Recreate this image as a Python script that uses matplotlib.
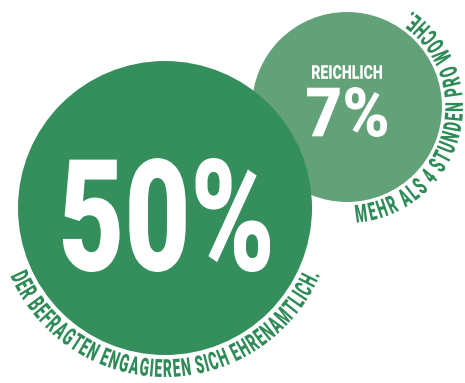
import numpy as np
import matplotlib
matplotlib.use("Agg")
import matplotlib.pyplot as plt
from matplotlib.patches import Circle, PathPatch
from matplotlib.textpath import TextPath
from matplotlib.transforms import Affine2D
from matplotlib.font_manager import FontProperties, findfont, get_font

# Shares shown in the two bubbles
share_engaged = 50
share_hours = 7
label_engaged = "DER BEFRAGTEN ENGAGIEREN SICH EHRENAMTLICH."
label_hours = "MEHR ALS 4 STUNDEN PRO WOCHE."
prefix_hours = "REICHLICH"

W, H = 465, 383
dark_green = "#348F5D"
light_green = "#63A279"
text_green = "#2F8B57"

prop = FontProperties(family="Roboto", weight=900)


def glyph_advances(s, size):
    font = get_font(findfont(prop))
    font.set_size(size, 72)
    return np.array([font.load_char(ord(ch)).linearHoriAdvance / 65536 for ch in s])


def text_in_box(ax, s, x0, y0, x1, y1, color):
    # stretch a glyph run so its ink fills the given box
    tp = TextPath((0, 0), s, size=100, prop=prop)
    ext = tp.get_extents()
    tr = (Affine2D().translate(-ext.x0, -ext.y0)
          .scale((x1 - x0) / ext.width, (y1 - y0) / ext.height)
          .translate(x0, y0))
    ax.add_patch(PathPatch(tr.transform_path(tp), fc=color, lw=0))


def text_on_arc(ax, s, center, r_base, a_start, a_end, size, sx, color):
    # letters sit outside the circle, tops pointing to the centre, reading counter-clockwise
    adv = glyph_advances(s, size) * sx
    mids = np.cumsum(adv) - adv / 2
    angles = a_start + (mids - mids[0]) / (mids[-1] - mids[0]) * (a_end - a_start)
    for ch, a, w in zip(s, angles, adv):
        if ch == " ":
            continue
        tp = TextPath((0, 0), ch, size=size, prop=prop)
        t = np.radians(a)
        px = center[0] + r_base * np.cos(t)
        py = center[1] + r_base * np.sin(t)
        tr = (Affine2D().scale(sx, 1).translate(-w / 2, 0)
              .rotate_deg(a + 90).translate(px, py))
        ax.add_patch(PathPatch(tr.transform_path(tp), fc=color, lw=0))


fig = plt.figure(figsize=(W / 100, H / 100), dpi=100)
ax = fig.add_axes([0, 0, 1, 1])
ax.set_xlim(0, W)
ax.set_ylim(0, H)
ax.set_aspect("equal")
ax.axis("off")

big_c, big_r = (165, 175), 147
small_c, small_r = (347, 276), 95

ax.add_patch(Circle(small_c, small_r, fc=light_green, lw=0))
ax.add_patch(Circle(big_c, big_r, fc=dark_green, lw=0))

text_in_box(ax, f"{share_engaged}%", 63, 111, 270, 225, "white")
text_in_box(ax, f"{share_hours}%", 307, 246, 387, 296, "white")
text_in_box(ax, prefix_hours, 312, 304, 382, 318, "white")

text_on_arc(ax, label_engaged, big_c, 169, -154.8, -24, 25, 0.55, text_green)
text_on_arc(ax, label_hours, small_c, 116, -82.5, 55, 25, 0.55, text_green)

fig.savefig("out.png", dpi=100, facecolor="white")
